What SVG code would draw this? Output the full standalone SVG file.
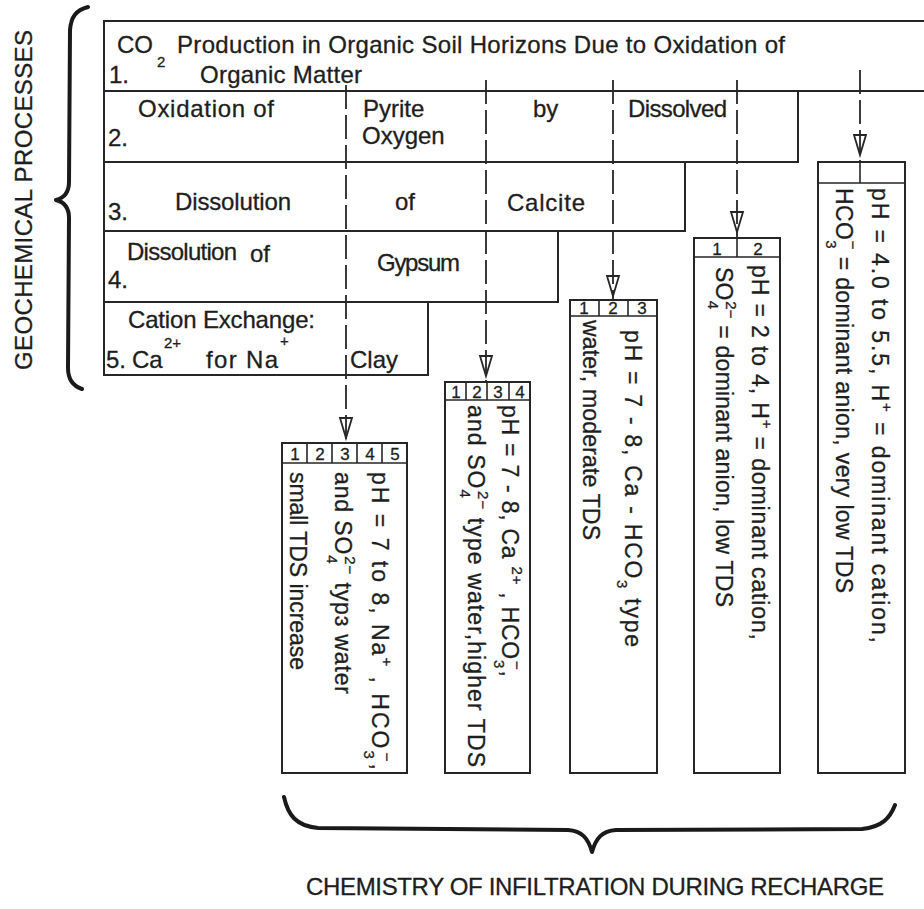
<svg xmlns="http://www.w3.org/2000/svg" width="924" height="909" viewBox="0 0 924 909">
<style>
.t{font-family:"Liberation Sans",Arial,sans-serif;font-size:24px;fill:#1e1e1e;stroke:#1e1e1e;stroke-width:0.3}
.r{font-size:23px}
.s{font-size:15px}
.d{font-size:17px;text-anchor:middle}
.bx{fill:none;stroke:#262626;stroke-width:2}
.hl{fill:none;stroke:#262626;stroke-width:1.6}
.cn{fill:none;stroke:#262626;stroke-width:1.8;stroke-dasharray:24 6}
.ah{fill:none;stroke:#262626;stroke-width:1.8}
.br{fill:none;stroke:#1a1a1a;stroke-width:4;stroke-linecap:round;stroke-linejoin:round}
</style>
<defs>
<path id="arrow" class="ah" d="M-6,-20 L6,-20 L0,0 Z"/>
</defs>
<rect width="924" height="909" fill="#ffffff"/>

<!-- braces and titles -->
<g id="brace-left">
<path class="br" d="M88,7 C76,10 71,17 70,30 L69,182 C69,193 64,198 56,200 C64,202 69,207 69,218 L68,368 C68,380 73,386 82,389"/>
<text class="t" transform="translate(32,200) rotate(-90)" text-anchor="middle" textLength="340" lengthAdjust="spacing">GEOCHEMICAL PROCESSES</text>
</g>
<g id="brace-bottom">
<path class="br" d="M284,797 C288,815 296,826 318,828 L568,830 C582,831 588,838 592,852 C596,838 602,831 616,830 L862,829 C882,827 890,818 895,805"/>
<text class="t" x="306" y="895" textLength="578" lengthAdjust="spacing">CHEMISTRY OF INFILTRATION DURING RECHARGE</text>
</g>

<!-- geochemical process rows -->
<g id="process1">
<rect class="bx" x="104" y="21" width="830" height="70"/>
<text class="t" x="117" y="53">CO</text>
<text class="t s" x="157" y="67">2</text>
<text class="t" x="177" y="53" textLength="608" lengthAdjust="spacing">Production in Organic Soil Horizons Due to Oxidation of</text>
<text class="t" x="109" y="83">1.</text>
<text class="t" x="200" y="83" textLength="162" lengthAdjust="spacing">Organic Matter</text>
</g>
<g id="process2">
<rect class="bx" x="104" y="91" width="694" height="71"/>
<text class="t" x="138" y="117" textLength="136" lengthAdjust="spacing">Oxidation of</text>
<text class="t" x="108" y="146">2.</text>
<text class="t" x="363" y="117">Pyrite</text>
<text class="t" x="362" y="144">Oxygen</text>
<text class="t" x="533" y="117">by</text>
<text class="t" x="628" y="117" textLength="99" lengthAdjust="spacing">Dissolved</text>
</g>
<g id="process3">
<rect class="bx" x="104" y="162" width="581" height="69"/>
<text class="t" x="108" y="220">3.</text>
<text class="t" x="175" y="210" textLength="116" lengthAdjust="spacing">Dissolution</text>
<text class="t" x="395" y="210">of</text>
<text class="t" x="507" y="211" textLength="78" lengthAdjust="spacing">Calcite</text>
</g>
<g id="process4">
<rect class="bx" x="104" y="231" width="454" height="71"/>
<text class="t" x="127" y="260" textLength="110" lengthAdjust="spacing">Dissolution</text>
<text class="t" x="250" y="262">of</text>
<text class="t" x="108" y="288">4.</text>
<text class="t" x="377" y="271" textLength="83" lengthAdjust="spacing">Gypsum</text>
</g>
<g id="process5">
<rect class="bx" x="104" y="302" width="324" height="73"/>
<text class="t" x="128" y="328" textLength="187" lengthAdjust="spacing">Cation Exchange:</text>
<text class="t" x="106" y="368">5.</text>
<text class="t" x="132" y="368">Ca</text>
<text class="t s" x="164" y="348">2+</text>
<text class="t" x="206" y="368" textLength="72" lengthAdjust="spacing">for Na</text>
<text class="t s" x="280" y="346">+</text>
<text class="t" x="350" y="368">Clay</text>
</g>

<!-- connectors -->
<g id="connectors">
<line class="cn" x1="346" y1="85" x2="346" y2="443"/>
<line class="cn" x1="486" y1="80" x2="486" y2="382"/>
<line class="cn" x1="613" y1="80" x2="613" y2="300"/>
<line class="cn" x1="737" y1="80" x2="737" y2="238"/>
<line class="cn" x1="860" y1="70" x2="860" y2="162"/>
<use href="#arrow" x="346" y="438"/>
<use href="#arrow" x="486" y="376"/>
<use href="#arrow" x="613" y="296"/>
<use href="#arrow" x="737" y="232"/>
<use href="#arrow" x="860" y="155"/>
</g>

<!-- result boxes -->
<g id="result1">
<rect class="bx" x="282" y="443" width="125" height="330"/>
<path class="hl" d="M282,463 H407 M307,443 V463 M332,443 V463 M357,443 V463 M382,443 V463"/>
<text class="t d" x="295" y="460">1</text>
<text class="t d" x="320" y="460">2</text>
<text class="t d" x="345" y="460">3</text>
<text class="t d" x="370" y="460">4</text>
<text class="t d" x="395" y="460">5</text>
<text class="t r" transform="translate(372,472) rotate(90)" textLength="298" lengthAdjust="spacing">pH  =  7 to 8, Na<tspan class="s" dy="-10">+</tspan><tspan dy="10"> , HCO</tspan><tspan class="s" dy="8">3</tspan><tspan class="s" dx="-8" dy="-18">−</tspan><tspan dy="10">,</tspan></text>
<text class="t r" transform="translate(335,472) rotate(90)" textLength="222" lengthAdjust="spacing">and SO<tspan class="s" dy="8">4</tspan><tspan class="s" dx="-8" dy="-18">2−</tspan><tspan dy="10">  typɜ water</tspan></text>
<text class="t r" transform="translate(290,472) rotate(90)" textLength="198" lengthAdjust="spacing">small TDS increase</text>
</g>
<g id="result2">
<rect class="bx" x="445" y="382" width="85" height="391"/>
<path class="hl" d="M445,400 H530 M466,382 V400 M487,382 V400 M509,382 V400"/>
<text class="t d" x="456" y="398">1</text>
<text class="t d" x="477" y="398">2</text>
<text class="t d" x="498" y="398">3</text>
<text class="t d" x="520" y="398">4</text>
<text class="t r" transform="translate(502,405) rotate(90)" textLength="272" lengthAdjust="spacing">pH  = 7 - 8, Ca <tspan class="s" dy="-10">2+</tspan><tspan dy="10">  , HCO</tspan><tspan class="s" dy="8">3</tspan><tspan class="s" dx="-8" dy="-18">−</tspan><tspan dy="10">,</tspan></text>
<text class="t r" transform="translate(468,405) rotate(90)" textLength="362" lengthAdjust="spacing">and SO<tspan class="s" dy="8">4</tspan><tspan class="s" dx="-8" dy="-18">2−</tspan><tspan dy="10">   type water,higher TDS</tspan></text>
</g>
<g id="result3">
<rect class="bx" x="570" y="300" width="87" height="473"/>
<path class="hl" d="M570,316 H657 M599,300 V316 M628,300 V316"/>
<text class="t d" x="584" y="314">1</text>
<text class="t d" x="613" y="314">2</text>
<text class="t d" x="642" y="314">3</text>
<text class="t r" transform="translate(625,330) rotate(90)" textLength="317" lengthAdjust="spacing">pH = 7 - 8, Ca - HCO<tspan class="s" dy="8">3</tspan><tspan dy="-8"> type</tspan></text>
<text class="t r" transform="translate(583,320) rotate(90)" textLength="220" lengthAdjust="spacing">water, moderate TDS</text>
</g>
<g id="result4">
<rect class="bx" x="694" y="238" width="86" height="535"/>
<path class="hl" d="M694,257 H780 M737,238 V257"/>
<text class="t d" x="717" y="255">1</text>
<text class="t d" x="758" y="255">2</text>
<text class="t r" transform="translate(752,265) rotate(90)" textLength="375" lengthAdjust="spacing">pH  =  2 to 4, H<tspan class="s" dy="-10">+</tspan><tspan dy="10">  = dominant cation,</tspan></text>
<text class="t r" transform="translate(716,267) rotate(90)" textLength="340" lengthAdjust="spacing">SO<tspan class="s" dy="8">4</tspan><tspan class="s" dx="-8" dy="-18">2−</tspan><tspan dy="10"> = dominant anion, low TDS</tspan></text>
</g>
<g id="result5">
<rect class="bx" x="818" y="162" width="87" height="611"/>
<path class="hl" d="M818,183 H905 M860,162 V183"/>
<text class="t r" transform="translate(872,188) rotate(90)" textLength="455" lengthAdjust="spacing">pH = 4.0 to 5.5, H<tspan class="s" dy="-10">+</tspan><tspan dy="10">  = dominant cation,</tspan></text>
<text class="t r" transform="translate(836,188) rotate(90)" textLength="405" lengthAdjust="spacing">HCO<tspan class="s" dy="10">3</tspan><tspan class="s" dx="-8" dy="-22">−</tspan><tspan dy="12"> = dominant anion, very low TDS</tspan></text>
</g>
</svg>
